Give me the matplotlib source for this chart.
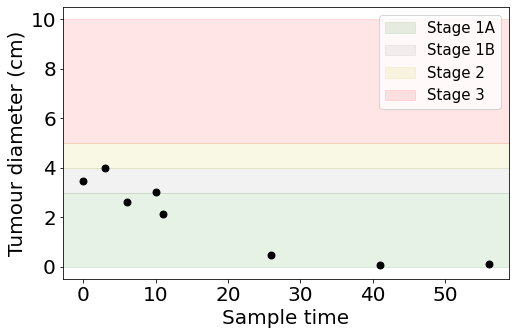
import matplotlib
matplotlib.use("Agg")
import matplotlib.pyplot as plt

# sample times and measured diameters
sample_times = [0, 3, 6, 10, 11, 26, 41, 56]
diameters = [3.47, 4.0, 2.62, 3.03, 2.14, 0.47, 0.07, 0.11]

# stage bands (cm)
stage_names = ["Stage 1A", "Stage 1B", "Stage 2", "Stage 3"]
stage_lo = [0, 3, 4, 5]
stage_hi = [3, 4, 5, 10]
stage_colors = ["green", "grey", "y", "red"]

fig = plt.figure(figsize=(516 / 72, 335 / 72), dpi=72)
ax = fig.add_axes([0.122, 0.167, 0.864, 0.812])

for name, lo, hi, c in zip(stage_names, stage_lo, stage_hi, stage_colors):
    ax.axhspan(lo, hi, color=c, alpha=0.1, label=name)

ax.scatter(sample_times, diameters, color="black", s=48, zorder=3)

ax.set_xlabel("Sample time", fontsize=20)
ax.set_ylabel("Tumour diameter (cm)", fontsize=20)
ax.tick_params(labelsize=20)
ax.legend(loc="upper right", fontsize=15)

fig.savefig("out.png", dpi=72)
